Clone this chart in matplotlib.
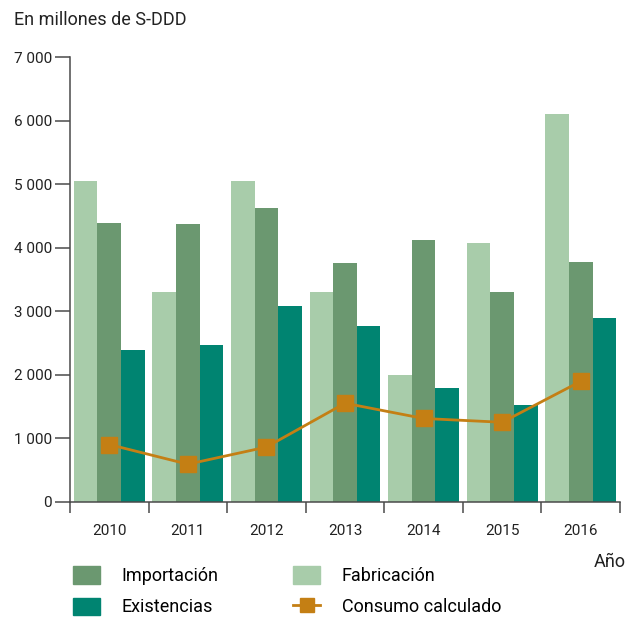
import matplotlib
matplotlib.use("Agg")
import matplotlib.pyplot as plt
import numpy as np
from matplotlib.patches import Patch
from matplotlib.lines import Line2D
from matplotlib.ticker import FuncFormatter

plt.rcParams["font.family"] = ["Roboto", "DejaVu Sans"]

# datos (millones de S-DDD)
years = ["2010", "2011", "2012", "2013", "2014", "2015", "2016"]
fabricacion = [5050, 3300, 5050, 3300, 2000, 4070, 6100]
importacion = [4390, 4370, 4620, 3760, 4120, 3300, 3770]
existencias = [2390, 2465, 3080, 2770, 1790, 1520, 2890]
consumo = [900, 590, 860, 1550, 1310, 1250, 1895]

c_fab = "#a8ccaa"
c_imp = "#6b9870"
c_exi = "#008471"
c_con = "#c47f14"
c_axis = "#4a4a4a"
c_txt = "#222222"

fig = plt.figure(figsize=(6.35, 6.17), dpi=100)
ax = fig.add_axes([0.1102, 0.1869, 0.8662, 0.7207])

x = np.arange(len(years))
w = 0.3
ax.bar(x - w, fabricacion, w, color=c_fab, zorder=2)
ax.bar(x, importacion, w, color=c_imp, zorder=2)
ax.bar(x + w, existencias, w, color=c_exi, zorder=2)
ax.plot(x, consumo, color=c_con, lw=2, marker="s", ms=12, zorder=3)

ax.set_xlim(-0.5, len(years) - 0.5)
ax.set_ylim(0, 7000)
ax.set_yticks(range(0, 7001, 1000))
ax.yaxis.set_major_formatter(FuncFormatter(lambda v, p: f"{int(v):,}".replace(",", " ")))

# ticks en los límites de cada año, etiquetas al centro
ax.set_xticks(np.arange(-0.5, len(years), 1.0))
ax.set_xticklabels([])
ax.set_xticks(x, minor=True)
ax.set_xticklabels(years, minor=True)
ax.tick_params(axis="x", which="major", length=8, width=1.1, color=c_axis, direction="out")
ax.tick_params(axis="x", which="minor", length=0, pad=16, labelsize=11, labelcolor=c_txt)
ax.tick_params(axis="y", length=11, width=1.1, color=c_axis, labelsize=11,
               labelcolor=c_txt, pad=2)

for s in ["top", "right"]:
    ax.spines[s].set_visible(False)
for s in ["left", "bottom"]:
    ax.spines[s].set_color(c_axis)
    ax.spines[s].set_linewidth(1.1)

fig.text(0.022, 0.967, "En millones de S-DDD", fontsize=13, color=c_txt, va="center")
fig.text(0.985, 0.089, "Año", fontsize=13, color=c_txt, ha="right", va="center")

handles = [
    Patch(color=c_imp),
    Patch(color=c_exi),
    Patch(color=c_fab),
    Line2D([], [], color=c_con, lw=2, marker="s", ms=10),
]
labels = ["Importación", "Existencias", "Fabricación", "Consumo calculado"]
fig.legend(handles, labels, ncol=2, loc="upper left", bbox_to_anchor=(0.1, 0.097),
           frameon=False, fontsize=13, handlelength=1.5, handleheight=1.1,
           handletextpad=1.2, columnspacing=4.15, labelspacing=0.7, borderpad=0)

fig.savefig("out.png", dpi=100)
